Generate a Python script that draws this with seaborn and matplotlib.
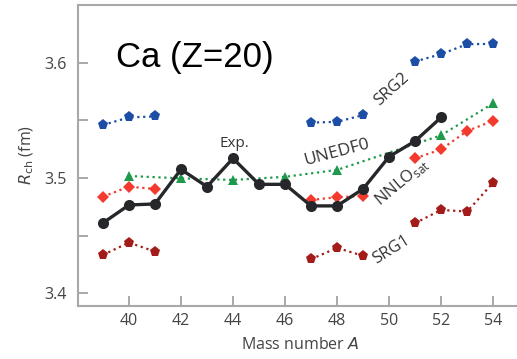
import numpy as np
import pandas as pd
import matplotlib
matplotlib.use('Agg')
import matplotlib.pyplot as plt
import seaborn as sns

# mass numbers and charge radii (fm), NaN = no point / gap in the line
massNumber = [39, 40, 41, 42, 43, 44, 45, 46, 47, 48, 49, 50, 51, 52, 53, 54]
expRadius = [3.461, 3.4766, 3.4775, 3.5075, 3.4925, 3.517, 3.4945, 3.4945,
             3.4758, 3.4758, 3.4905, 3.5185, 3.532, 3.5525, np.nan, np.nan]
srg2Radius = [3.546, 3.5525, 3.5534, np.nan, np.nan, np.nan, np.nan, np.nan,
              3.548, 3.5487, 3.5545, np.nan, 3.601, 3.6074, 3.616, 3.6163]
unedf0Radius = [np.nan, 3.5017, np.nan, 3.4997, np.nan, 3.4983, np.nan, 3.501,
                np.nan, 3.507, np.nan, np.nan, np.nan, 3.537, np.nan, 3.5647]
nnloRadius = [3.4838, 3.4925, 3.4905, np.nan, np.nan, np.nan, np.nan, np.nan,
              3.481, 3.4833, 3.4844, np.nan, 3.517, 3.5248, 3.5407, 3.5496]
srg1Radius = [3.4333, 3.444, 3.4362, np.nan, np.nan, np.nan, np.nan, np.nan,
              3.4296, 3.4394, 3.4325, np.nan, 3.4608, 3.4723, 3.4709, 3.4959]

sns.set_style('white')
plt.rcParams['font.family'] = ['Open Sans', 'DejaVu Sans']


def split_segments(x, y, connect_gaps=False):
    '''split a series into runs of consecutive valid points'''
    df = pd.DataFrame({'A': x, 'R': y})
    if connect_gaps:
        df = df.dropna()
        df['seg'] = 0
        return df
    df['seg'] = df['R'].isna().cumsum()
    return df.dropna()


fig = plt.figure(figsize=(5.17, 3.59), dpi=100)
ax = fig.add_axes([78 / 517, 1 - 306 / 359, 445 / 517, 301 / 359])

theory = [
    (srg2Radius, '#1c4ea6', 'p', 8.0, False),
    (unedf0Radius, '#1f9a4c', '^', 7.0, True),
    (nnloRadius, '#f23a2e', 'D', 6.0, False),
    (srg1Radius, '#a31c1a', 'p', 8.0, False),
]
for radius, col, mk, ms, conn in theory:
    df = split_segments(massNumber, radius, conn)
    for _, seg in df.groupby('seg'):
        sns.lineplot(data=seg, x='A', y='R', color=col, linestyle=':', linewidth=1.6,
                     marker=mk, markersize=ms, markeredgewidth=0, ax=ax)

dfExp = split_segments(massNumber, expRadius, True)
sns.lineplot(data=dfExp, x='A', y='R', color='#25272b', linewidth=2.4,
             marker='o', markersize=8, markeredgewidth=0, ax=ax, zorder=5)

ax.set_xlim(38.04, 55.15)
ax.set_ylim(3.389, 3.65)
ax.set_xticks([40, 42, 44, 46, 48, 50, 52, 54])
ax.set_yticks([3.4, 3.5, 3.6])
ax.set_yticks([3.45, 3.55], minor=True)
ax.tick_params(axis='both', which='both', direction='in', length=7, width=1.2,
               color='#9a9a9a', labelsize=11.5, labelcolor='#444444', pad=5,
               bottom=True, left=True)
ax.tick_params(axis='y', pad=8)
for side in ['left', 'bottom', 'top']:
    ax.spines[side].set_color('#a8a8a8')
    ax.spines[side].set_linewidth(1.5)
ax.spines['right'].set_visible(False)

ax.set_xlabel('Mass number $\\it{A}$', fontsize=11.5, color='#444444', labelpad=6)
ax.set_ylabel('$\\it{R}_{\\rm ch}$ (fm)', fontsize=11.5, color='#444444', labelpad=6)

ax.text(39.52, 3.596, 'Ca (Z=20)', fontsize=25, color='black',
        family=['Liberation Sans', 'DejaVu Sans'])
ax.text(44.05, 3.530, 'Exp.', fontsize=11, color='#333333', ha='center', va='center')
ax.text(50.1, 3.577, 'SRG2', fontsize=12, color='#333333', ha='center', va='center',
        rotation=42)
ax.text(48.0, 3.5225, 'UNEDF0', fontsize=12.5, color='#333333', ha='center', va='center',
        rotation=15)
ax.text(50.5, 3.4965, 'NNLO$_{\\mathregular{sat}}$', fontsize=12, color='#333333',
        ha='center', va='center', rotation=40)
ax.text(50.1, 3.438, 'SRG1', fontsize=12, color='#333333', ha='center', va='center',
        rotation=32)

fig.savefig('out.png', dpi=100)
